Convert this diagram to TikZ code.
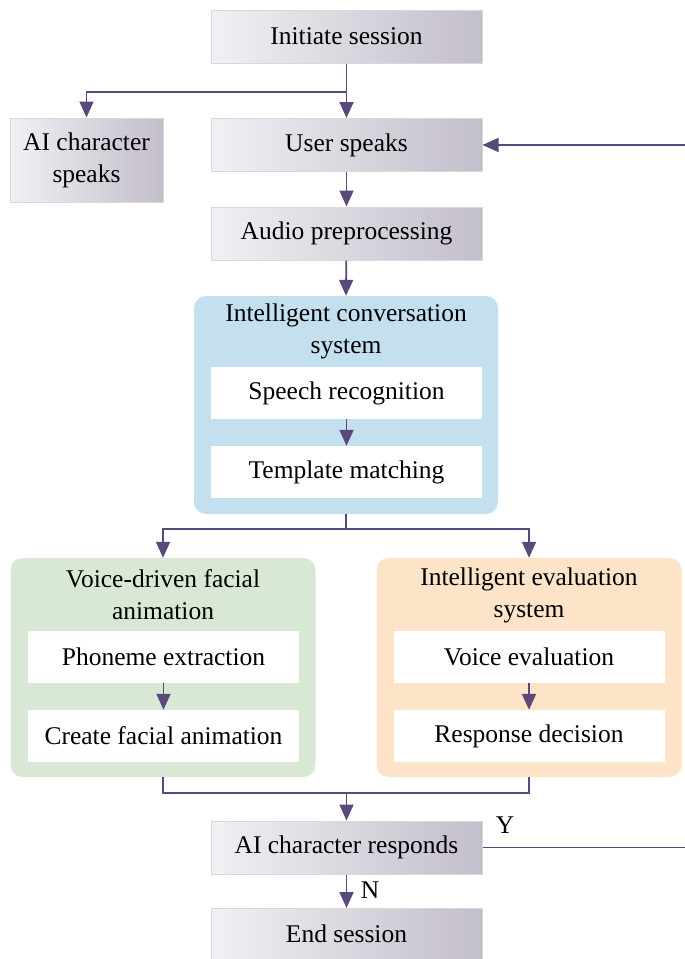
\documentclass[tikz,border=0pt]{standalone}
\usepackage{fontspec}
\setmainfont{Liberation Serif}
\usetikzlibrary{arrows.meta}
\definecolor{arr}{HTML}{5A4A7B}
\definecolor{boxl}{HTML}{F1F0F4}
\definecolor{boxr}{HTML}{C3BECB}
\definecolor{boxe}{HTML}{D9D7DE}
\definecolor{cblue}{HTML}{C4E0EF}
\definecolor{cgreen}{HTML}{D9E8D4}
\definecolor{corange}{HTML}{FDE3C8}
\begin{document}
\begin{tikzpicture}[x=1pt,y=-1pt, font=\fontsize{25.5}{32}\selectfont,
  graybox/.style={rectangle, left color=boxl, right color=boxr, draw=boxe, line width=1pt,
    minimum width=271pt, minimum height=53pt, inner sep=0pt, align=center},
  whitebox/.style={rectangle, fill=white, minimum width=271pt, minimum height=52pt, inner sep=0pt},
  cont/.style={rectangle, rounded corners=12pt, minimum width=305pt, minimum height=219pt, inner sep=0pt},
  ttl/.style={align=center, inner sep=0pt},
  conn/.style={draw=arr, line width=1.8pt},
  arrow/.style={conn, -{Triangle[width=14pt,length=16pt]}}]
\useasboundingbox (0,0) rectangle (685,959);
% gray boxes
\node[graybox] (init) at (346.5,36.5) {Initiate session};
\node[graybox, minimum width=153pt, minimum height=84pt] (aisp) at (86.5,160) {AI character\\speaks};
\node[graybox] (user) at (346.5,145) {User speaks};
\node[graybox] (audio) at (346.5,233.5) {Audio preprocessing};
% conversation container
\node[cont, fill=cblue, minimum width=304pt, minimum height=218pt] (conv) at (346,405) {};
\node[ttl] (convt) at (346,331) {Intelligent conversation\\system};
\node[whitebox] (speech) at (346.5,393) {Speech recognition};
\node[whitebox] (templ) at (346.5,472) {Template matching};
% facial container
\node[cont, fill=cgreen] (face) at (163,667.5) {};
\node[ttl] (facet) at (163,595) {Voice-driven facial\\animation};
\node[whitebox] (phon) at (163.5,656.5) {Phoneme extraction};
\node[whitebox] (create) at (163.5,736) {Create facial animation};
% evaluation container
\node[cont, fill=corange] (evalc) at (529,667.5) {};
\node[ttl] (evalt) at (529,595) {Intelligent evaluation\\system};
\node[whitebox] (voice) at (529,656.5) {Voice evaluation};
\node[whitebox] (decis) at (529,736) {Response decision};
% bottom
\node[graybox] (resp) at (346.5,847.5) {AI character responds};
\node[graybox, minimum height=51pt] (endn) at (346.5,934) {End session};
% connectors
\coordinate (j1) at (346.5,92);
\draw[conn] (init.south) -- (j1);
\draw[arrow] (j1) -| (aisp.north);
\draw[arrow] (j1) -- (user.north);
\draw[arrow] (user) -- (audio);
\draw[arrow] (audio) -- (conv.north);
\draw[arrow] (speech) -- (templ);
\coordinate (j2) at (346,529);
\draw[conn] (conv.south) -- (j2);
\draw[arrow] (j2) -| (face.north);
\draw[arrow] (j2) -| (evalc.north);
\draw[arrow] (phon) -- (create);
\draw[arrow] (voice) -- (decis);
\coordinate (j3) at (346.5,793);
\draw[conn] (face.south) |- (j3) -| (evalc.south);
\draw[arrow] (j3) -- (resp.north);
\draw[arrow] (resp) -- (endn);
\node[inner sep=0pt] (nlab) at (370,890) {N};
\coordinate (rc) at (688,847.5);
\draw[arrow] (resp.east) -- (rc) |- (user.east);
\node[inner sep=0pt] (ylab) at (505,825) {Y};
\end{tikzpicture}
\end{document}
